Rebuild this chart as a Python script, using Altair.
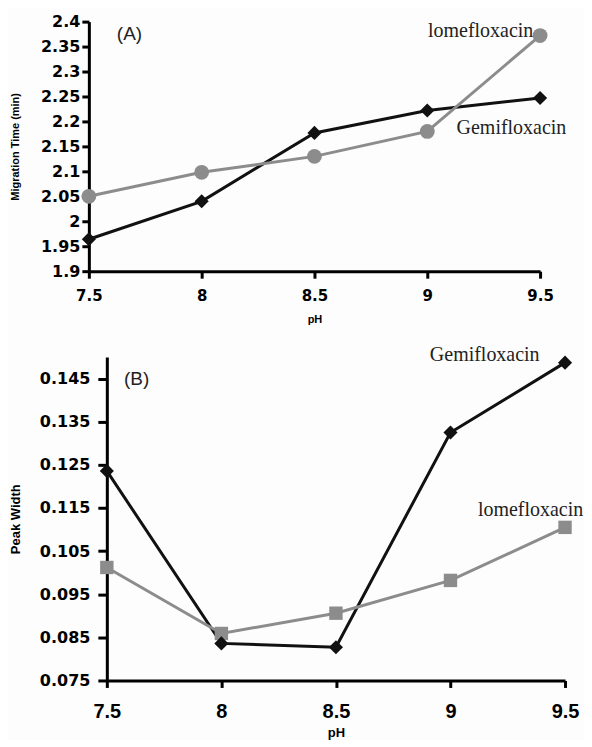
import altair as alt
import pandas as pd

# ---- data ----
ph = [7.5, 8.0, 8.5, 9.0, 9.5]
series = ["Gemifloxacin", "lomefloxacin"]

mig_gemi = [1.964, 2.040, 2.177, 2.222, 2.247]
mig_lome = [2.050, 2.098, 2.130, 2.180, 2.372]

pw_gemi = [0.1236, 0.0836, 0.0827, 0.1325, 0.1487]
pw_lome = [0.1012, 0.0859, 0.0906, 0.0982, 0.1105]

ticks_a = [1.9, 1.95, 2.0, 2.05, 2.1, 2.15, 2.2, 2.25, 2.3, 2.35, 2.4]
ticks_b = [0.075, 0.085, 0.095, 0.105, 0.115, 0.125, 0.135, 0.145]

# annotation texts (data coordinates)
ann_a_text = ["(A)", "lomefloxacin", "Gemifloxacin"]
ann_a_x = [7.68, 9.47, 9.13]
ann_a_y = [2.375, 2.37, 2.174]

ann_b_text = ["(B)", "Gemifloxacin", "lomefloxacin"]
ann_b_x = [7.63, 8.91, 9.12]
ann_b_y = [0.1448, 0.1491, 0.1132]

df_a = pd.DataFrame({
    "pH": ph * 2,
    "value": mig_gemi + mig_lome,
    "series": [series[0]] * 5 + [series[1]] * 5,
})
df_b = pd.DataFrame({
    "pH": ph * 2,
    "value": pw_gemi + pw_lome,
    "series": [series[0]] * 5 + [series[1]] * 5,
})

BLACK = "#111111"
GRAY = "#8c8c8c"
color_scale = alt.Scale(domain=series, range=[BLACK, GRAY])


def axis_common(**kw):
    base = dict(
        grid=False, domainColor="black", domainWidth=3, tickColor="black",
        tickWidth=3, labelColor="black", labelFontWeight="bold",
        titleColor="black", titleFont="Liberation Sans", titleFontWeight="bold",
        labelFlush=False, labelOverlap=False,
    )
    base.update(kw)
    return alt.Axis(**base)


def panel(df, y_domain, y_ticks, y_fmt, y_title, second_shape, sizes, ann_text,
          ann_x, ann_y, x_label_font, x_label_size, x_label_pad, x_title_size,
          x_title_pad, y_tick, y_lab_pad, y_extent, y_title_size, y_title_pad,
          width, height, x_range=None, y_offset=0):
    xs = dict(domain=[7.5, 9.5], nice=False, zero=False)
    if x_range is not None:
        xs["range"] = x_range
    x_enc = alt.X("pH:Q", scale=alt.Scale(**xs),
                  axis=axis_common(values=ph, format="~g", title="pH",
                                   labelFont=x_label_font, labelFontSize=x_label_size,
                                   tickSize=7, labelPadding=x_label_pad,
                                   titleFontSize=x_title_size, titlePadding=x_title_pad))
    y_enc = alt.Y("value:Q", scale=alt.Scale(domain=y_domain, nice=False, zero=False),
                  axis=axis_common(values=y_ticks, format=y_fmt, title=y_title,
                                   labelFont="DejaVu Sans", labelFontSize=16,
                                   tickSize=y_tick, labelPadding=y_lab_pad,
                                   minExtent=y_extent, maxExtent=y_extent,
                                   offset=y_offset,
                                   titleFontSize=y_title_size, titlePadding=y_title_pad))
    col = alt.Color("series:N", scale=color_scale, legend=None)
    lines = alt.Chart(df).mark_line(strokeWidth=3).encode(
        x=x_enc, y=y_enc, color=col, detail="series:N")
    pts_g = alt.Chart(df).transform_filter(alt.datum.series == series[0]).mark_point(
        shape="diamond", filled=True, size=sizes[0], color=BLACK, opacity=1
    ).encode(x=x_enc, y=y_enc)
    pts_l = alt.Chart(df).transform_filter(alt.datum.series == series[1]).mark_point(
        shape=second_shape, filled=True, size=sizes[1], color=GRAY, opacity=1
    ).encode(x=x_enc, y=y_enc)

    layers = [lines, pts_l, pts_g]
    for t, xx, yy in zip(ann_text, ann_x, ann_y):
        d = pd.DataFrame({"pH": [xx], "value": [yy], "t": [t]})
        if t.startswith("("):
            m = alt.Chart(d).mark_text(font="Liberation Sans", fontSize=19,
                                       color="#222222", align="center",
                                       baseline="middle")
        else:
            right = (t == "lomefloxacin" and ann_text[0] == "(A)")
            m = alt.Chart(d).mark_text(font="Liberation Serif", fontSize=20,
                                       color="#222222",
                                       align="right" if right else "left",
                                       baseline="alphabetic")
        layers.append(m.encode(x=x_enc, y=y_enc, text="t:N"))
    return alt.layer(*layers).properties(width=width, height=height)


chart_a = panel(df_a, [1.9, 2.4], ticks_a, "~g", "Migration Time (min)", "circle",
                (200, 220), ann_a_text, ann_a_x, ann_a_y,
                "DejaVu Sans", 15, 10, 11, 10,
                7, 2, 56, 11, 12, 434, 250, x_range=[-18, 434], y_offset=18)
chart_b = panel(df_b, [0.075, 0.15], ticks_b, ".3f", "Peak Width", "square",
                (200, 180), ann_b_text, ann_b_x, ann_b_y,
                "Liberation Sans", 20, 14, 13, 5,
                9, 8, 70, 13, 14, 459, 324)

chart = alt.vconcat(chart_a, chart_b, spacing=20).properties(
    padding={"left": 2, "top": 5, "right": 0, "bottom": 0},
    background="#fdfdfd",
).configure_view(stroke=None)

chart.save("out.html", embed_options={"renderer": "svg", "actions": False})
